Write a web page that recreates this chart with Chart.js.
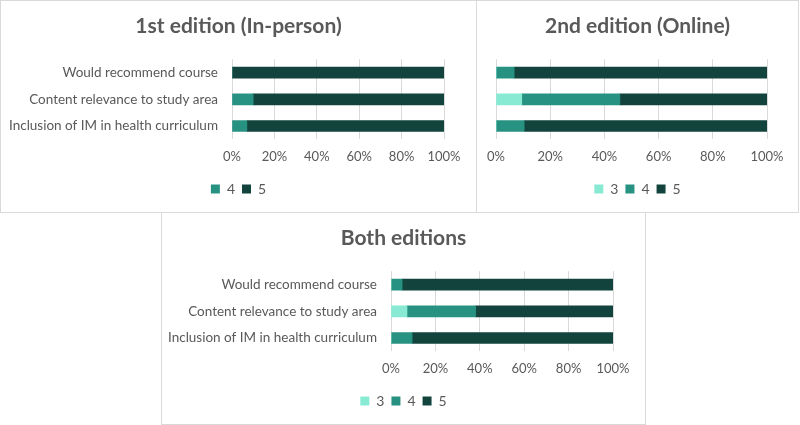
<!DOCTYPE html>
<html>
<head>
<meta charset="utf-8">
<script src="https://cdn.jsdelivr.net/npm/chart.js@4"></script>
<style>
  body { margin: 0; background: #fff; }
  .panel { position: absolute; box-sizing: border-box; border: 1px solid #d9d9d9; background: #fff; }
  .panel canvas { display: block; }
</style>
</head>
<body>
<div class="panel" style="left:0;top:0;width:477px;height:213px"><canvas id="chart1" width="475" height="211"></canvas></div>
<div class="panel" style="left:476px;top:0;width:323px;height:213px"><canvas id="chart2" width="321" height="211"></canvas></div>
<div class="panel" style="left:161px;top:212px;width:485px;height:213px"><canvas id="chart3" width="483" height="211"></canvas></div>
<script>
const categories = ["Would recommend course", "Content relevance to study area", "Inclusion of IM in health curriculum"];
const xTicks = [0, 20, 40, 60, 80, 100];

// 1st edition (in-person), % of answers
const first4 = [0, 10, 7];
const first5 = [100, 90, 93];

// 2nd edition (online)
const second3 = [0, 9.5, 0];
const second4 = [6.7, 36.2, 10.4];
const second5 = [93.3, 54.3, 89.6];

// both editions
const both3 = [0, 7.2, 0];
const both4 = [5, 30.9, 9.5];
const both5 = [95, 61.9, 90.5];

const colors = { "3": "#88ead2", "4": "#279282", "5": "#12443d" };
const grey = "#595959";
const font = "Lato, 'Open Sans', sans-serif";

function makeChart(id, title, series, yWidth, showLabels, rightPad) {
  new Chart(document.getElementById(id), {
    type: "bar",
    data: {
      labels: categories,
      datasets: series.map(s => ({
        label: s.label,
        data: s.data,
        backgroundColor: colors[s.label],
        borderWidth: 0,
        barThickness: 11,
      })),
    },
    options: {
      indexAxis: "y",
      responsive: false,
      animation: false,
      layout: { padding: { left: 0, right: 0, top: 0, bottom: 6 } },
      scales: {
        x: {
          stacked: true,
          min: 0,
          max: 100,
          afterBuildTicks: axis => { axis.ticks = xTicks.map(v => ({ value: v })); },
          // keep the plot's right edge fixed so the legend centres on the whole panel
          afterFit: axis => { axis.paddingRight = rightPad; },
          ticks: { color: grey, font: { family: font, size: 13 }, padding: 10, callback: v => v + "%" },
          grid: { color: "#d9d9d9", drawTicks: false },
          border: { display: false },
        },
        y: {
          stacked: true,
          afterFit: axis => { axis.width = yWidth; },
          ticks: { display: showLabels, color: grey, font: { family: font, size: 13.5 }, padding: 6 },
          grid: { display: false },
          border: { display: false },
        },
      },
      plugins: {
        title: {
          display: true,
          text: title,
          color: grey,
          font: { family: font, size: 21, weight: "bold" },
          padding: { top: 13, bottom: 20 },
        },
        legend: {
          position: "bottom",
          labels: { color: grey, boxWidth: 9, boxHeight: 9, padding: 7, font: { family: font, size: 14 } },
        },
        tooltip: { enabled: false },
      },
    },
  });
}

makeChart("chart1", "1st edition (In-person)", [
  { label: "4", data: first4 },
  { label: "5", data: first5 },
], 231, true, 32);

makeChart("chart2", "2nd edition (Online)", [
  { label: "3", data: second3 },
  { label: "4", data: second4 },
  { label: "5", data: second5 },
], 19, false, 31);

makeChart("chart3", "Both editions", [
  { label: "3", data: both3 },
  { label: "4", data: both4 },
  { label: "5", data: both5 },
], 229, true, 32);
</script>
</body>
</html>
